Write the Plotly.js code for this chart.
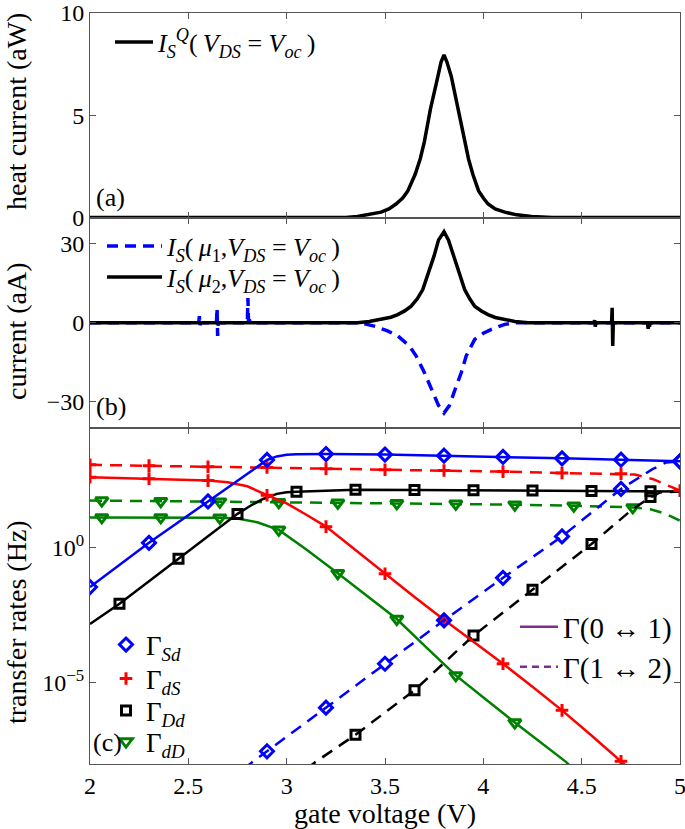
<!DOCTYPE html>
<html>
<head>
<meta charset="utf-8">
<script src="https://cdn.plot.ly/plotly-3.0.1.min.js"></script>
<style>html,body{margin:0;padding:0;background:#fff;}</style>
</head>
<body>
<div id="chart" style="width:685px;height:829px;"></div>
<script>
// ---------- DATA ----------
// x tick values (gate voltage, V)
const xTicks = [2, 2.5, 3, 3.5, 4, 4.5, 5];

// (a) heat current (aW)
const heatV = [2.0, 3.30, 3.36, 3.42, 3.48, 3.52, 3.556, 3.59, 3.616, 3.653, 3.68, 3.70, 3.731, 3.769, 3.785, 3.80, 3.815, 3.837, 3.871, 3.905, 3.925, 3.947, 3.976, 4.0, 4.024, 4.06, 4.109, 4.17, 4.245, 4.35, 5.0];
const heatQ = [0, 0, 0.05, 0.14, 0.26, 0.42, 0.66, 0.95, 1.3, 2.1, 2.9, 3.7, 5.3, 6.9, 7.6, 7.95, 7.6, 6.9, 5.3, 3.7, 2.85, 2.1, 1.3, 0.95, 0.66, 0.42, 0.26, 0.13, 0.05, 0, 0];

// (b) current (aA)
const mu1V = [2.0, 2.553, 2.556, 2.559, 2.562, 2.643, 2.646, 2.649, 2.652, 2.800, 2.803, 2.806, 2.81, 2.815, 2.82, 3.37, 3.445, 3.51, 3.565, 3.624, 3.658, 3.70, 3.738, 3.772, 3.80, 3.828, 3.858, 3.888, 3.913, 3.956, 4.0, 4.041, 4.109, 4.16, 5.0];
const mu1I = [0, 0, 2.5, -1.3, 0, 0, 5.7, -5.0, 0, 0, 9.4, 0.6, 1.0, 0.6, 0, 0, -1.3, -3.0, -5.0, -8.8, -12.6, -18.9, -25.2, -31.4, -34.3, -31.4, -25.0, -18.9, -12.6, -6.3, -4.0, -2.5, -0.6, 0, 0];
const mu2V = [2.0, 3.36, 3.42, 3.48, 3.53, 3.565, 3.60, 3.633, 3.665, 3.692, 3.721, 3.75, 3.772, 3.80, 3.823, 3.85, 3.874, 3.905, 3.93, 3.956, 3.99, 4.024, 4.06, 4.109, 4.16, 4.228, 4.563, 4.566, 4.569, 4.572, 4.652, 4.655, 4.658, 4.661, 4.835, 4.838, 4.842, 4.845, 4.848, 5.0];
const mu2I = [0, 0, 0.5, 1.25, 2.1, 3.1, 4.5, 6.3, 9.2, 12.6, 18.9, 25.5, 31.4, 34.6, 31.4, 25.0, 18.9, 12.6, 9.2, 6.3, 4.5, 3.1, 2.0, 1.25, 0.5, 0, 0, 1.0, -1.5, 0, 0, 5.7, -8.8, 0, 0, -2.3, 0, -1.5, 0, 0];

// (c) transfer rates (Hz)
const sd01V = [2.0, 2.3, 2.6, 2.9, 2.95, 3.0, 3.05, 3.1, 3.2, 3.5, 3.8, 4.1, 4.4, 4.7, 5.0];
const sd01R = [0.0339, 1.45, 49.0, 1660, 2240, 2570, 2690, 2750, 2750, 2630, 2400, 2140, 1910, 1700, 1480];
const sd12V = [2.78, 2.82, 2.9, 3.2, 3.5, 3.8, 4.1, 4.4, 4.7, 4.86, 4.93, 5.0];
const sd12R = [6.3e-9, 1.10e-8, 2.95e-8, 1.20e-6, 5.01e-5, 2.0e-3, 0.0741, 2.51, 141, 759, 1349, 1479];
const ds01V = [2.0, 2.3, 2.6, 2.7, 2.8, 2.9, 3.0, 3.1, 3.2, 3.35, 3.5, 3.65, 3.8, 3.95, 4.1, 4.25, 4.4, 4.55, 4.7, 4.75];
const ds01R = [380, 339, 288, 251, 178, 83.2, 41.7, 15.8, 5.75, 0.794, 0.105, 0.0145, 2.09e-3, 3.31e-4, 5.01e-5, 7.08e-6, 9.55e-7, 1.12e-7, 1.26e-8, 6.0e-9];
const ds12V = [2.0, 2.3, 2.6, 2.9, 3.2, 3.5, 3.8, 4.1, 4.4, 4.7, 4.77, 4.86, 4.93, 5.0];
const ds12R = [1096, 1023, 933, 871, 794, 724, 676, 617, 550, 513, 479, 331, 200, 123];
const dd01V = [2.0, 2.15, 2.45, 2.75, 2.82, 2.88, 2.95, 3.0, 3.05, 3.35, 3.65, 3.95, 4.25, 4.55, 4.85, 5.0];
const dd01R = [1.48e-3, 8.13e-3, 0.372, 17.0, 35.5, 60.3, 93.3, 107, 112, 132, 129, 126, 123, 120, 117, 115];
const dd12V = [3.10, 3.14, 3.35, 3.65, 3.95, 4.25, 4.55, 4.75, 4.85, 4.9, 5.0];
const dd12R = [6.3e-9, 1.10e-8, 1.20e-7, 5.25e-6, 5.50e-4, 0.0269, 1.32, 22.4, 70.8, 105, 115];
const dD01V = [2.0, 2.06, 2.36, 2.66, 2.75, 2.85, 2.96, 3.1, 3.26, 3.41, 3.56, 3.71, 3.86, 4.01, 4.16, 4.42, 4.46];
const dD01R = [12.6, 12.6, 12.6, 12.3, 11.5, 8.32, 4.37, 0.832, 0.110, 0.0158, 2.24e-3, 2.0e-4, 1.86e-5, 2.51e-6, 3.39e-7, 1.20e-8, 6.3e-9];
const dD12V = [2.0, 2.06, 2.36, 2.66, 2.96, 3.26, 3.56, 3.86, 4.16, 4.46, 4.76, 4.85, 4.92, 5.0];
const dD12R = [52.5, 52.5, 50.1, 47.9, 45.7, 43.7, 41.7, 39.8, 37.2, 33.9, 29.5, 25.1, 17.8, 9.55];

// gate voltages where the symbols sit
const markSd = [2.0, 2.3, 2.6, 2.9, 3.2, 3.5, 3.8, 4.1, 4.4, 4.7, 5.0];
const markdS = [2.0, 2.3, 2.6, 2.9, 3.2, 3.5, 3.8, 4.1, 4.4, 4.7, 5.0];
const markDd = [2.15, 2.45, 2.75, 3.05, 3.35, 3.65, 3.95, 4.25, 4.55, 4.85];
const markdD = [2.06, 2.36, 2.66, 2.96, 3.26, 3.56, 3.86, 4.16, 4.46, 4.76];

// tick labels
const yTicksA = [0, 5, 10];
const yTicksB = [-30, 0, 30];
const yTicksC = [1e-5, 1];
const yTickTextC = ['10<sup>−5</sup>', '10<sup>0</sup>'];

// ---------- STYLE ----------
const FONT = 'Liberation Serif, Times New Roman, serif';
const BLUE = '#0000ff', RED = '#ff0000', BLACK = '#000000', GREEN = '#008000', PURPLE = '#7e2f8e';
const DASH_B = '11px,7px';
const DASH_C = '12px,8px';
const TS = '\u2009'; // thin space
const TOP = 13, BOT = 65, H = 829;
const PH = H - TOP - BOT;          // plot height in px
const yBottom = H - BOT;           // px of lowest axis

function px2x(p) { return (p - 90) / 590; }
function py2y(p) { return (yBottom - p) / PH; }

function marks(xs, ys, mx) {
  const ox = [], oy = [];
  mx.forEach(v => { const i = xs.indexOf(v); if (i >= 0) { ox.push(v); oy.push(ys[i]); } });
  return {x: ox, y: oy};
}

const traces = [];
// (a)
traces.push({x: heatV, y: heatQ, type: 'scatter', mode: 'lines', xaxis: 'x', yaxis: 'y',
  line: {color: BLACK, width: 3.5}, legend: 'legend',
  name: '<i>I</i><sub><i>S</i></sub><sup><i>Q</i></sup>(' + TS + '<i>V</i><sub><i>DS</i></sub> = <i>V</i><sub><i>oc</i></sub>' + TS + ')'});
// (b)
traces.push({x: mu1V, y: mu1I, type: 'scatter', mode: 'lines', xaxis: 'x2', yaxis: 'y2',
  line: {color: BLUE, width: 3.5, dash: DASH_B}, legend: 'legend2',
  name: '<i>I</i><sub><i>S</i></sub>(' + TS + '<i>μ</i><sub>1</sub>,<i>V</i><sub><i>DS</i></sub> = <i>V</i><sub><i>oc</i></sub>' + TS + ')'});
traces.push({x: mu2V, y: mu2I, type: 'scatter', mode: 'lines', xaxis: 'x2', yaxis: 'y2',
  line: {color: BLACK, width: 3.5}, legend: 'legend3',
  name: '<i>I</i><sub><i>S</i></sub>(' + TS + '<i>μ</i><sub>2</sub>,<i>V</i><sub><i>DS</i></sub> = <i>V</i><sub><i>oc</i></sub>' + TS + ')'});

// (c)
const series = [
  {x: dD01V, y: dD01R, c: GREEN, dash: 'solid', m: markdD, sym: 'triangle-down-open', size: 11},
  {x: dD12V, y: dD12R, c: GREEN, dash: DASH_C, m: markdD, sym: 'triangle-down-open', size: 11},
  {x: dd01V, y: dd01R, c: BLACK, dash: 'solid', m: markDd, sym: 'square-open', size: 9},
  {x: dd12V, y: dd12R, c: BLACK, dash: DASH_C, m: markDd, sym: 'square-open', size: 9},
  {x: ds01V, y: ds01R, c: RED, dash: 'solid', m: markdS, sym: 'cross-thin-open', size: 9},
  {x: ds12V, y: ds12R, c: RED, dash: DASH_C, m: markdS, sym: 'cross-thin-open', size: 9},
  {x: sd01V, y: sd01R, c: BLUE, dash: 'solid', m: markSd, sym: 'diamond-open', size: 10},
  {x: sd12V, y: sd12R, c: BLUE, dash: DASH_C, m: markSd, sym: 'diamond-open', size: 10}
];
series.forEach(s => {
  traces.push({x: s.x, y: s.y, type: 'scatter', mode: 'lines', xaxis: 'x3', yaxis: 'y3',
    line: {color: s.c, width: 2.5, dash: s.dash}, showlegend: false, hoverinfo: 'skip'});
  const mk = marks(s.x, s.y, s.m);
  traces.push({x: mk.x, y: mk.y, type: 'scatter', mode: 'markers', xaxis: 'x3', yaxis: 'y3',
    marker: {symbol: s.sym, size: s.size, color: s.c, line: {color: s.c, width: 3}}, showlegend: false});
});
// legend entries for (c)
const legC = [
  {n: 'Γ<sub><i>Sd</i></sub>', c: BLUE, sym: 'diamond-open', size: 10, lg: 'legend4'},
  {n: 'Γ<sub><i>dS</i></sub>', c: RED, sym: 'cross-thin-open', size: 9, lg: 'legend5'},
  {n: 'Γ<sub><i>Dd</i></sub>', c: BLACK, sym: 'square-open', size: 9, lg: 'legend6'},
  {n: 'Γ<sub><i>dD</i></sub>', c: GREEN, sym: 'triangle-down-open', size: 11, lg: 'legend7'}
];
legC.forEach(l => traces.push({x: [null], y: [null], type: 'scatter', mode: 'markers', xaxis: 'x3', yaxis: 'y3',
  name: l.n, legend: l.lg, marker: {symbol: l.sym, size: l.size, color: l.c, line: {color: l.c, width: 3}}}));
traces.push({x: [null], y: [null], type: 'scatter', mode: 'lines', xaxis: 'x3', yaxis: 'y3', legend: 'legend8',
  name: 'Γ(0 ↔ 1)', line: {color: PURPLE, width: 2.5}});
traces.push({x: [null], y: [null], type: 'scatter', mode: 'lines', xaxis: 'x3', yaxis: 'y3', legend: 'legend9',
  name: 'Γ(1 ↔ 2)', line: {color: PURPLE, width: 2.5, dash: '7px,5px'}});

const axBase = {showline: true, linecolor: '#555', linewidth: 1, mirror: 'ticks', ticks: 'inside',
  ticklen: 6, tickcolor: '#555', showgrid: false, zeroline: false, ticklabeloverflow: 'allow',
  tickfont: {family: FONT, size: 24, color: 'black'}};

function leg(px, py, size, itemwidth) {
  const o = {bgcolor: 'rgba(0,0,0,0)', borderwidth: 0, font: {family: FONT, size: size, color: 'black'},
    xanchor: 'left', yanchor: 'middle', x: px2x(px), y: py2y(py)};
  if (itemwidth) o.itemwidth = itemwidth;
  return o;
}
function yTitle(text, py) {
  return {text: text, textangle: -90, xref: 'paper', yref: 'paper', x: px2x(16), y: py2y(py),
    xanchor: 'center', yanchor: 'middle', showarrow: false, font: {family: FONT, size: 28, color: 'black'}};
}
function panelLabel(text, px, py) {
  return {text: text, xref: 'paper', yref: 'paper', x: px2x(px), y: py2y(py), xanchor: 'center', yanchor: 'middle',
    showarrow: false, font: {family: FONT, size: 26, color: 'black'}};
}

const layout = {
  width: 685, height: H,
  margin: {l: 90, r: 5, t: TOP, b: BOT},
  paper_bgcolor: 'white', plot_bgcolor: 'white',
  font: {family: FONT, size: 24, color: 'black'},
  xaxis: Object.assign({}, axBase, {domain: [0, 1], anchor: 'y', range: [2, 5], tickvals: xTicks, showticklabels: false}),
  xaxis2: Object.assign({}, axBase, {domain: [0, 1], anchor: 'y2', range: [2, 5], tickvals: xTicks, showticklabels: false}),
  xaxis3: Object.assign({}, axBase, {domain: [0, 1], anchor: 'y3', range: [2, 5], tickvals: xTicks,
    title: {text: 'gate voltage (V)', font: {family: FONT, size: 28, color: 'black'}, standoff: 0}}),
  yaxis: Object.assign({}, axBase, {domain: [py2y(217.5), 1], anchor: 'x', range: [0, 10], tickvals: yTicksA}),
  yaxis2: Object.assign({}, axBase, {domain: [py2y(428), py2y(217.5)], anchor: 'x2', range: [-40, 40], tickvals: yTicksB}),
  yaxis3: Object.assign({}, axBase, {domain: [0, py2y(428)], anchor: 'x3', type: 'log', range: [-8, 4.4],
    tickvals: yTicksC, ticktext: yTickTextC}),
  legend: leg(110, 42, 26, 38),
  legend2: leg(102, 246, 26, 55),
  legend3: leg(102, 277, 26, 55),
  legend4: leg(106, 645, 27),
  legend5: leg(106, 679, 27),
  legend6: leg(106, 711, 27),
  legend7: leg(106, 742, 27),
  legend8: leg(515, 627, 29, 38),
  legend9: leg(515, 667, 29, 38),
  annotations: [
    yTitle('heat current (aW)', 112),
    yTitle('current (aA)', 331),
    yTitle('transfer rates (Hz)', 622),
    panelLabel('(a)', 110, 198),
    panelLabel('(b)', 111, 407),
    panelLabel('(c)', 107, 742)
  ]
};

Plotly.newPlot('chart', traces, layout, {displayModeBar: false, staticPlot: true});
</script>
</body>
</html>
